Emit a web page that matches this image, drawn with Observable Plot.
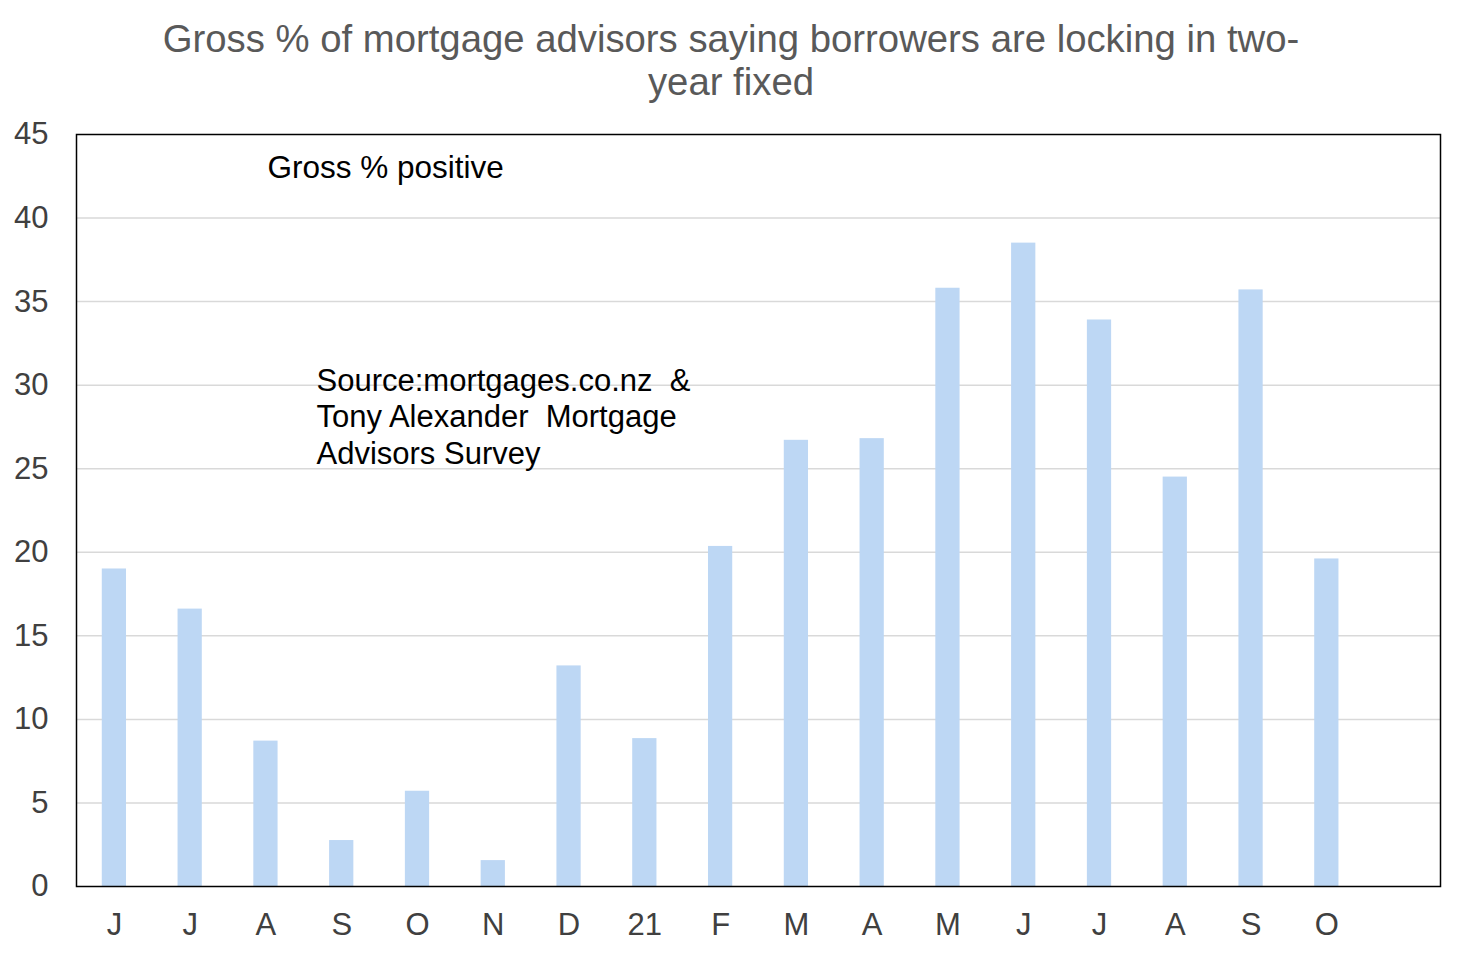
<!DOCTYPE html>
<html>
<head>
<meta charset="utf-8">
<script src="https://cdn.jsdelivr.net/npm/d3@7"></script>
<script src="https://cdn.jsdelivr.net/npm/@observablehq/plot@0.6"></script>
<style>
  html, body { margin: 0; padding: 0; background: #fff; }
  body { width: 1462px; height: 954px; overflow: hidden; font-family: "Liberation Sans", Arial, sans-serif; }
  #title { height: 110px; box-sizing: border-box; padding-top: 17px; text-align: center; color: #595959; font-size: 38.3px; line-height: 43px; }
  #chart svg { display: block; }
</style>
</head>
<body>
<div id="title">Gross % of mortgage advisors saying borrowers are locking in two-<br>year fixed</div>
<div id="chart"></div>
<script>
const monthLabels = ["J","J","A","S","O","N","D","21","F","M","A","M","J","J","A","S","O",""];
const grossPositive = [19.0,16.6,8.7,2.75,5.7,1.55,13.2,8.85,20.35,26.7,26.8,35.8,38.5,33.9,24.5,35.7,19.6,null];
const yTicks = [0,5,10,15,20,25,30,35,40,45];
const gridTicks = [5,10,15,20,25,30,35,40];
const seriesLabel = "Gross % positive";
const sourceNote = "Source:mortgages.co.nz  &\nTony Alexander  Mortgage\nAdvisors Survey";

const data = monthLabels.map((m, i) => ({i, m, v: grossPositive[i]}));
const bars = data.filter(d => d.v != null);

const plot = Plot.plot({
  width: 1462,
  height: 844,
  marginTop: 24,
  marginBottom: 68,
  marginLeft: 76,
  marginRight: 22,
  style: {fontFamily: "'Liberation Sans', Arial, sans-serif", background: "#fff"},
  x: {type: "band", domain: data.map(d => d.i), paddingInner: 0.68, paddingOuter: 0.34, round: false},
  y: {domain: [0, 45]},
  marks: [
    Plot.ruleY(gridTicks, {stroke: "#d9d9d9", strokeWidth: 1.5}),
    Plot.barY(bars, {x: "i", y: "v", fill: "#bdd7f4"}),
    Plot.frame({stroke: "#000", strokeWidth: 1.5}),
    Plot.axisY({ticks: yTicks, tickSize: 0, tickPadding: 28, fontSize: 31, color: "#404040", label: null}),
    Plot.axisX({tickSize: 0, tickPadding: 26, fontSize: 31, color: "#404040", label: null, tickFormat: i => monthLabels[i]}),
    Plot.text([seriesLabel], {frameAnchor: "top-left", dx: 191, dy: 33, text: d => d, fontSize: 31.5, fill: "#000", textAnchor: "start", lineAnchor: "middle"}),
    Plot.text([sourceNote], {frameAnchor: "top-left", dx: 240, dy: 281, text: d => d, fontSize: 31, fill: "#000", textAnchor: "start", lineAnchor: "middle", lineHeight: 1.18})
  ]
});
document.getElementById("chart").appendChild(plot);
</script>
</body>
</html>
